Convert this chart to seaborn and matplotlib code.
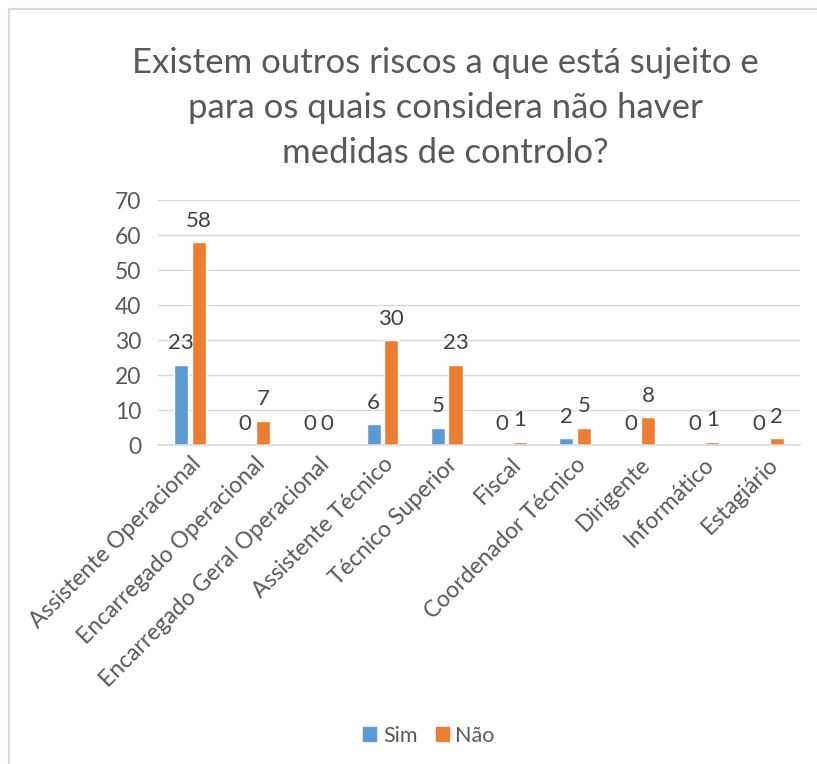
import pandas as pd
import matplotlib.pyplot as plt
import matplotlib.lines as mlines
import seaborn as sns

categories = ["Assistente Operacional", "Encarregado Operacional",
              "Encarregado Geral Operacional", "Assistente Técnico",
              "Técnico Superior", "Fiscal", "Coordenador Técnico",
              "Dirigente", "Informático", "Estagiário"]
sim = [23, 0, 0, 6, 5, 0, 2, 0, 0, 0]
nao = [58, 7, 0, 30, 23, 1, 5, 8, 1, 2]
series = ["Sim", "Não"]
yticks = [0, 10, 20, 30, 40, 50, 60, 70]

TITLE = ("Existem outros riscos a que está sujeito e\n"
         "para os quais considera não haver\n"
         "medidas de controlo?")

df = pd.DataFrame({"cargo": categories * 2,
                   "resposta": [series[0]] * len(categories) + [series[1]] * len(categories),
                   "valor": sim + nao})

sns.set_style("white")
plt.rcParams["font.family"] = ["Lato", "DejaVu Sans"]

text_col = "#595959"
palette = {"Sim": "#5B9BD5", "Não": "#ED7D31"}

fig = plt.figure(figsize=(8.17, 7.64), dpi=100)
ax = fig.add_axes([0.193, 0.4175, 0.786, 0.3205])

sns.barplot(data=df, x="cargo", y="valor", hue="resposta", palette=palette,
            width=0.55, gap=0.2, ax=ax, legend=False, saturation=1)

ax.set_ylim(0, 70)
ax.set_yticks(yticks)
ax.set_xlim(-0.5, len(categories) - 0.5)
ax.set_xlabel("")
ax.set_ylabel("")
ax.yaxis.grid(True, color="#D9D9D9", linewidth=1)
ax.set_axisbelow(True)
for s in ["left", "right", "top"]:
    ax.spines[s].set_visible(False)
ax.spines["bottom"].set_color("#D9D9D9")
ax.spines["bottom"].set_linewidth(1.2)
ax.tick_params(axis="both", length=0, colors=text_col, labelsize=16.5)
ax.tick_params(axis="y", pad=12)
ax.tick_params(axis="x", pad=6)
plt.setp(ax.get_xticklabels(), rotation=45, ha="right", rotation_mode="anchor")

# data labels
for cont in ax.containers:
    for bar in cont:
        h = bar.get_height()
        ax.annotate(f"{int(h)}", (bar.get_x() + bar.get_width() / 2, h),
                    xytext=(0, 8), textcoords="offset points",
                    ha="center", va="bottom", fontsize=16, color="#404040")

fig.suptitle(TITLE, x=0.545, y=0.939, fontsize=25, color=text_col,
             linespacing=1.5, va="top")

handles = [plt.Rectangle((0, 0), 1, 1, color=palette[s]) for s in series]
fig.legend(handles, series, loc="center", bbox_to_anchor=(0.525, 0.037),
           ncol=2, frameon=False, fontsize=15.5, handlelength=0.6,
           handleheight=0.6, handletextpad=0.3, columnspacing=0.85,
           labelcolor=text_col)

# chart frame (left and top edges visible)
fig.add_artist(mlines.Line2D([0.011, 0.011], [0, 0.988], color="#D9D9D9",
                             linewidth=1.5, transform=fig.transFigure))
fig.add_artist(mlines.Line2D([0.011, 1.0], [0.988, 0.988], color="#D9D9D9",
                             linewidth=1.5, transform=fig.transFigure))

plt.savefig("out.png", dpi=100, facecolor="white")
plt.close()
